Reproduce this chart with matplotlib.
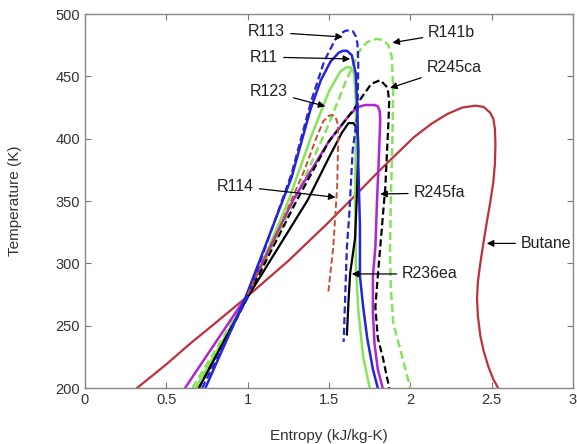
import matplotlib
matplotlib.use("Agg")
import matplotlib.pyplot as plt

plt.rcParams['font.family'] = ['Liberation Sans', 'DejaVu Sans']

# ---- data (entropy kJ/kg-K, temperature K) ----
butane_s = [0.32, 0.5, 0.65, 0.8, 0.985, 1.25, 1.49, 1.65, 1.815, 2.02, 2.13, 2.23, 2.32, 2.40, 2.45, 2.49, 2.51, 2.52,
            2.523, 2.52, 2.51, 2.49, 2.47, 2.45, 2.43, 2.415, 2.41, 2.415, 2.43, 2.45, 2.48, 2.51, 2.54]
butane_T = [200, 219, 236, 252, 272, 302, 332, 353, 375, 401, 412, 420, 425, 426.5, 425.5, 421, 416, 408,
            395, 380, 365, 348, 333, 317, 300, 285, 272, 258, 242, 230, 217, 207, 200]

r113_s = [0.72, 1.0, 1.27, 1.39, 1.47, 1.54, 1.58, 1.60, 1.625, 1.648, 1.665, 1.675, 1.68, 1.675, 1.645, 1.625, 1.61, 1.60, 1.59]
r113_T = [200, 273, 372, 430, 462, 480, 485, 486.5, 487, 486, 482, 476, 460, 420, 390, 340, 313, 275, 237]

r11_s = [0.74, 0.985, 1.27, 1.385, 1.45, 1.51, 1.56, 1.585, 1.61, 1.64, 1.665, 1.675, 1.68, 1.69, 1.69, 1.71, 1.735, 1.77, 1.80]
r11_T = [200, 272, 369, 423, 447, 462, 469, 470.5, 470.5, 467, 452, 420, 380, 330, 290, 265, 240, 215, 200]

r123_s = [0.68, 1.0, 1.25, 1.40, 1.50, 1.57, 1.61, 1.635, 1.655, 1.665, 1.665, 1.66, 1.665, 1.68, 1.71, 1.75]
r123_T = [200, 273, 350, 405, 438, 454, 457.5, 457, 452, 430, 400, 350, 300, 262, 225, 200]

r141b_s = [0.66, 1.0, 1.25, 1.49, 1.60, 1.69, 1.735, 1.77, 1.80, 1.835, 1.865, 1.885, 1.895, 1.89, 1.88, 1.875, 1.88, 1.895, 1.95, 2.0]
r141b_T = [200, 273, 340, 409, 445, 471, 477.5, 479.5, 480, 479, 475, 466, 440, 400, 350, 310, 280, 252, 225, 200]

r245ca_s = [0.70, 1.0, 1.30, 1.50, 1.65, 1.70, 1.76, 1.815, 1.86, 1.87, 1.866, 1.846, 1.815, 1.80, 1.785, 1.80, 1.83, 1.87]
r245ca_T = [200, 273, 350, 398, 423, 433, 444, 447, 441, 430, 415, 361, 313, 290, 265, 240, 225, 200]

r245fa_s = [0.615, 0.985, 1.28, 1.50, 1.62, 1.67, 1.72, 1.78, 1.80, 1.812, 1.815, 1.805, 1.795, 1.785, 1.77, 1.77, 1.78, 1.80, 1.83]
r245fa_T = [200, 272, 351, 398, 418, 425, 427, 427, 426, 422, 415, 380, 350, 313, 290, 260, 235, 215, 200]

r236ea_s = [0.70, 1.0, 1.37, 1.50, 1.58, 1.62, 1.65, 1.668, 1.678, 1.68, 1.67, 1.66, 1.63, 1.62, 1.61]
r236ea_T = [200, 273, 351, 385, 405, 412.5, 412.5, 409, 402, 390, 350, 320, 292, 270, 243]

r114_s = [1.0, 1.2, 1.35, 1.42, 1.465, 1.50, 1.52, 1.54, 1.553, 1.557, 1.55, 1.526, 1.495]
r114_T = [275, 330, 375, 400, 414, 418.5, 419, 417.5, 412, 401, 361, 313, 276]

x_ticks = [0, 0.5, 1, 1.5, 2, 2.5, 3]
x_tick_labels = ['0', '0.5', '1', '1.5', '2', '2.5', '3']
y_ticks = [200, 250, 300, 350, 400, 450, 500]

# label text positions and arrow targets
labels = ['R113', 'R11', 'R123', 'R114', 'R141b', 'R245ca', 'R245fa', 'R236ea', 'Butane']
label_xy = [(1.003, 485.6), (1.015, 465.5), (1.015, 438), (0.81, 362), (2.11, 485), (2.10, 457.5), (2.02, 356.5), (1.95, 291.5), (2.68, 316)]
arrow_tip = [(1.585, 481.6), (1.63, 464), (1.477, 426), (1.54, 353), (1.89, 477), (1.875, 440.7), (1.815, 355.6), (1.64, 291.5), (2.47, 316)]

# ---- drawing ----
fig = plt.figure(figsize=(5.77, 4.44), dpi=100)
ax = fig.add_axes([0.1473, 0.1261, 0.8458, 0.8423])

blue = '#2424d8'
green = '#86e45a'
magenta = '#b024d4'
red = '#c0303c'
brown = '#c0503c'
dash = (0, (3.2, 1.6))

ax.plot(butane_s, butane_T, color=red, lw=1.6)
ax.plot(r141b_s, r141b_T, color=green, lw=1.8, linestyle=dash)
ax.plot(r123_s, r123_T, color=green, lw=1.8)
ax.plot(r245fa_s, r245fa_T, color=magenta, lw=1.8)
ax.plot(r245ca_s, r245ca_T, color='black', lw=1.6, linestyle=dash)
ax.plot(r236ea_s, r236ea_T, color='black', lw=1.6)
ax.plot(r11_s, r11_T, color=blue, lw=1.8)
ax.plot(r113_s, r113_T, color=blue, lw=1.6, linestyle=dash)
ax.plot(r114_s, r114_T, color=brown, lw=1.4, linestyle=dash)

for lab, (tx, ty), (ax_, ay) in zip(labels, label_xy, arrow_tip):
    ax.annotate(lab, xy=(ax_, ay), xytext=(tx, ty), fontsize=11.5, color='#222222',
                ha='left', va='center',
                arrowprops=dict(arrowstyle='-|>', color='black', lw=0.9,
                                mutation_scale=10, shrinkA=2, shrinkB=0))

ax.set_xlim(0, 3)
ax.set_ylim(200, 500)
ax.set_xticks(x_ticks)
ax.set_xticklabels(x_tick_labels)
ax.set_yticks(y_ticks)
ax.tick_params(direction='in', top=True, right=True, length=4, colors='#777777',
               labelcolor='#333333', labelsize=10.5)
for sp in ax.spines.values():
    sp.set_color('#888888')
    sp.set_linewidth(1.0)

ax.set_xlabel('Entropy (kJ/kg-K)', fontsize=11, color='#333333', labelpad=16)
ax.set_ylabel('Temperature (K)', fontsize=11, color='#333333', labelpad=24)

fig.savefig('out.png', dpi=100)
